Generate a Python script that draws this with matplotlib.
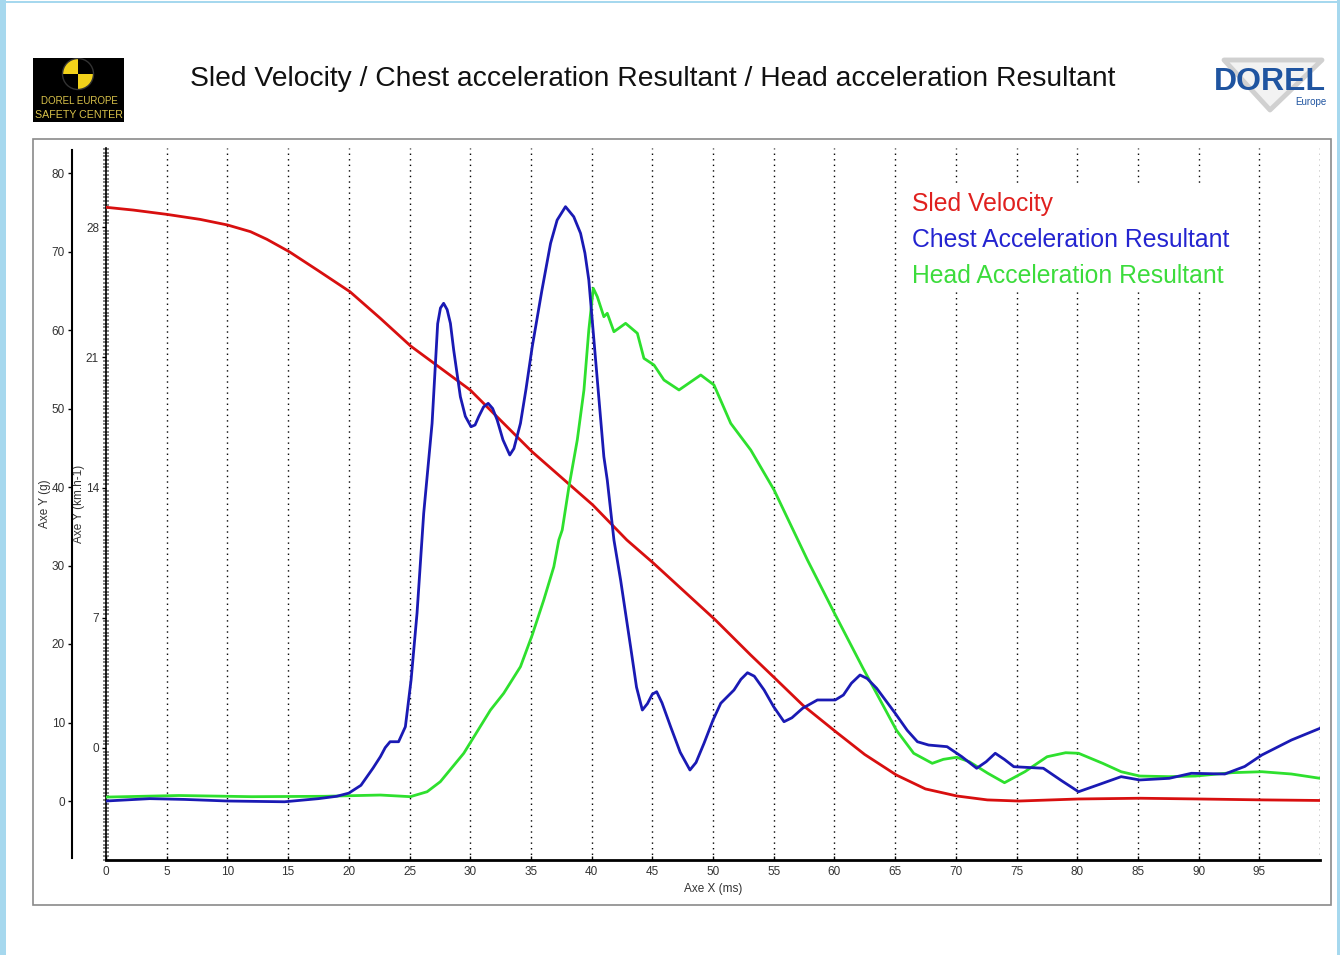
import matplotlib
matplotlib.use("Agg")
import matplotlib.pyplot as plt
from matplotlib.patches import Rectangle, Wedge, Circle, Polygon
from matplotlib.ticker import MultipleLocator, FixedLocator

# ---------------- data ----------------
sled_t = [0, 2.25, 5, 7.75, 10, 11.9, 13.25, 15.1, 17.4, 20.1, 22.6, 25.1, 30.0, 35.1, 40.1,
          42.9, 45.1, 50.2, 53.1, 55.1, 57.4, 60.1, 62.5, 65.1, 67.5, 70.1, 72.6, 75.2, 80.1,
          85.2, 90.0, 95.4, 100]
sled_v = [29.06, 28.91, 28.68, 28.41, 28.11, 27.75, 27.34, 26.67, 25.69, 24.52, 23.09, 21.60,
          19.24, 15.92, 13.06, 11.18, 9.93, 6.88, 5.00, 3.75, 2.3, 0.88, -0.35, -1.45, -2.2,
          -2.58, -2.79, -2.85, -2.74, -2.70, -2.74, -2.79, -2.82]

chest_t = [0, 3.6, 6.5, 10, 14.7, 17.5, 19.0, 20.0, 21.0, 22.0, 22.6, 23.0, 23.4, 24.1, 24.66,
           25.13, 25.62, 26.17, 26.86, 27.32, 27.55, 27.81, 28.1, 28.37, 28.64, 29.19, 29.6,
           30.07, 30.4, 30.70, 31.1, 31.48, 31.85, 32.22, 32.7, 33.26, 33.6, 34.14, 34.6, 35.11,
           35.9, 36.62, 37.16, 37.85, 38.53, 39.09, 39.45, 39.77, 40.19, 41.01, 41.29, 41.84,
           42.39, 43.21, 43.7, 44.18, 44.6, 45.0, 45.36, 45.8, 46.51, 47.3, 48.10, 48.6, 49.26,
           50.0, 50.64, 51.73, 52.3, 52.84, 53.4, 54.21, 55.0, 55.85, 56.5, 57.38, 58.60, 60.07,
           60.74, 61.4, 62.11, 62.7, 63.48, 65.01, 66.0, 66.84, 67.76, 69.28, 70.50, 71.72,
           72.5, 73.25, 74.0, 74.78, 77.21, 78.7, 80.11, 81.8, 83.62, 85.15, 87.58, 89.41,
           92.16, 93.8, 95.21, 97.65, 100]
chest_g = [0, 0.3, 0.2, 0, -0.1, 0.3, 0.6, 1.0, 2.0, 4.2, 5.64, 6.8, 7.55, 7.55, 9.46,
           15.41, 23.91, 36.65, 48.11, 60.8, 62.8, 63.40, 62.6, 60.85, 57.45, 51.50, 49.0,
           47.68, 47.9, 48.96, 50.2, 50.66, 50.0, 48.54, 46.0, 44.08, 44.9, 48.11, 52.5, 57.87,
           65.0, 71.04, 74.0, 75.71, 74.43, 72.32, 69.8, 66.37, 58.73, 43.86, 40.89, 33.25,
           28.15, 19.66, 14.5, 11.59, 12.4, 13.6, 13.92, 12.5, 9.46, 6.2, 3.95, 4.9, 7.35,
           10.3, 12.45, 14.14, 15.5, 16.34, 15.9, 14.14, 12.0, 10.10, 10.6, 11.81, 12.87, 12.87,
           13.50, 15.0, 16.05, 15.6, 14.36, 11.17, 9.0, 7.55, 7.13, 6.92, 5.64, 4.17,
           5.0, 6.08, 5.3, 4.37, 4.17, 2.6, 1.18, 2.1, 3.10, 2.68, 2.89, 3.53,
           3.44, 4.4, 5.86, 7.77, 9.26]

head_t = [0, 6, 12, 18, 22.6, 25.07, 26.45, 27.54, 29.47, 31.67, 32.76, 34.14, 35.11, 36.06,
          36.89, 37.30, 37.58, 38.13, 38.82, 39.37, 39.77, 40.14, 40.47, 41.01, 41.29, 41.84,
          42.80, 43.77, 44.31, 45.14, 45.96, 47.20, 48.99, 50.08, 51.46, 53.11, 55.03, 57.78,
          59.98, 62.36, 64.0, 65.10, 66.53, 68.06, 68.98, 70.07, 71.11, 72.64, 74.01, 75.69,
          77.52, 79.05, 80.11, 82.10, 83.62, 85.15, 87.58, 89.73, 92.78, 95.21, 97.64, 100]
head_g = [0.5, 0.7, 0.55, 0.6, 0.76, 0.55, 1.18, 2.46, 6.08, 11.59, 13.72, 17.11, 21.15, 25.61,
          29.85, 33.25, 34.52, 40.0, 45.99, 52.36, 60.0, 65.31, 64.24, 61.69, 62.13, 59.78,
          60.85, 59.58, 56.39, 55.54, 53.63, 52.36, 54.27, 53.0, 48.11, 44.71, 39.62, 30.70,
          24.0, 16.9, 12.2, 9.04, 6.08, 4.80, 5.31, 5.57, 5.01, 3.53, 2.33, 3.73, 5.64, 6.15,
          6.08, 4.80, 3.73, 3.18, 3.10, 3.18, 3.61, 3.73, 3.44, 2.89]

x_ticks = list(range(0, 100, 5))
g_ticks = [0, 10, 20, 30, 40, 50, 60, 70, 80]
v_ticks = [0, 7, 14, 21, 28]

title = "Sled Velocity / Chest acceleration Resultant / Head acceleration Resultant"
legend_labels = ["Sled Velocity", "Chest Acceleration Resultant", "Head Acceleration Resultant"]

RED = "#d80f0f"
BLUE = "#1a1ab4"
GREEN = "#2ee02e"
LEG_COLORS = ["#e0201e", "#2424d0", "#3cdc3c"]

plt.rcParams['font.family'] = ['Liberation Sans', 'DejaVu Sans']

W, H = 1340, 955
fig = plt.figure(figsize=(W / 100, H / 100), dpi=100)
fig.patch.set_facecolor("white")


def fx(px):
    return px / W


def fy(py):
    return 1 - py / H


# outer light-blue frame
fig.patches.append(Rectangle((0, 0), fx(6), 1, transform=fig.transFigure,
                             facecolor="#a6d8ee", edgecolor="none", zorder=0))
fig.patches.append(Rectangle((0, fy(3)), 1, fx(3), transform=fig.transFigure,
                             facecolor="#a6d8ee", edgecolor="none", zorder=0))
fig.patches.append(Rectangle((fx(1337), 0), fx(3), 1, transform=fig.transFigure,
                             facecolor="#a6d8ee", edgecolor="none", zorder=0))

# chart panel border
fig.patches.append(Rectangle((fx(33), fy(905)), fx(1331 - 33), fy(139) - fy(905),
                             transform=fig.transFigure, facecolor="none",
                             edgecolor="#8a8a8a", lw=1.2, zorder=1))

# ---------------- main axes ----------------
L, R, T, B = 106, 1320, 148, 860
ax = fig.add_axes([fx(L), fy(B), fx(R - L), fy(T) - fy(B)])
ax.set_facecolor("none")
ax.set_xlim(0, 100)
ax.set_ylim((801 - B) / 7.85, (801 - T) / 7.85)

axv = ax.twinx()
axv.set_ylim((748 - B) / 18.607, (748 - T) / 18.607)

# grid (vertical dotted lines)
for xv in list(range(5, 101, 5)):
    axv.axvline(xv, color="black", lw=1.0, ls=(0, (1, 3)), zorder=1)

# curves
axv.plot(sled_t, sled_v, color=RED, lw=2.0, zorder=3, solid_joinstyle="round")
ax.plot(head_t, head_g, color=GREEN, lw=2.0, zorder=4, solid_joinstyle="round")
ax.plot(chest_t, chest_g, color=BLUE, lw=2.0, zorder=5, solid_joinstyle="round")
ax.set_zorder(axv.get_zorder() + 1)

# g axis (offset spine)
for s in ["top", "right"]:
    ax.spines[s].set_visible(False)
ax.spines["left"].set_position(("axes", (72 - L) / (R - L)))
ax.spines["left"].set_bounds((801 - 858) / 7.85, (801 - 150) / 7.85)
ax.spines["left"].set_linewidth(1.5)
ax.spines["bottom"].set_linewidth(2.0)
ax.yaxis.set_major_locator(FixedLocator(g_ticks))
ax.tick_params(axis="y", direction="out", length=3, width=1, labelsize=8.5,
               pad=2, colors="black", labelcolor="#333333")
ax.set_ylabel("Axe Y (g)", fontsize=8.5, color="#333333", labelpad=1)
ax.yaxis.set_label_coords((51 - L) / (R - L), 0.5)

ax.xaxis.set_major_locator(FixedLocator(x_ticks))
ax.tick_params(axis="x", direction="in", length=3, width=1, labelsize=8.5, pad=4,
               labelcolor="#333333")
ax.set_xlabel("Axe X (ms)", fontsize=8.5, color="#333333", labelpad=4)

# velocity axis (at plot left edge)
for s in ["top", "right", "bottom"]:
    axv.spines[s].set_visible(False)
axv.spines["left"].set_visible(True)
axv.spines["left"].set_position(("axes", 0))
axv.spines["left"].set_linewidth(1.2)
axv.yaxis.tick_left()
axv.yaxis.set_label_position("left")
axv.yaxis.set_major_locator(FixedLocator(v_ticks))
axv.yaxis.set_minor_locator(MultipleLocator(0.2))
axv.tick_params(axis="y", which="major", direction="out", length=3, width=1,
                labelsize=8.5, pad=2, labelcolor="#333333")
axv.tick_params(axis="y", which="minor", direction="inout", length=4, width=1.2,
                color="#707070")
axv.set_ylabel("Axe Y (km.h-1)", fontsize=8.5, color="#333333")
axv.yaxis.set_label_coords((85 - L) / (R - L), 0.5)

# legend box (white, hides grid) and texts
fig.patches.append(Rectangle((fx(905), fy(292)), fx(1238 - 905), fy(186) - fy(292),
                             transform=fig.transFigure, facecolor="white",
                             edgecolor="none", zorder=2))
for i, (lab, c) in enumerate(zip(legend_labels, LEG_COLORS)):
    fig.text(fx(912), fy(204 + 36 * i), lab, color=c, fontsize=17.8,
             ha="left", va="center", zorder=3)

# title
fig.text(fx(653), fy(79), title, fontsize=20.3, ha="center", va="center", color="#111111")

# ---------------- left logo ----------------
lg = fig.add_axes([fx(33), fy(122), fx(124 - 33), fy(58) - fy(122)])
lg.set_xlim(33, 124)
lg.set_ylim(122, 58)
lg.set_facecolor("black")
lg.set_xticks([])
lg.set_yticks([])
for s in lg.spines.values():
    s.set_visible(False)
cx, cy, r = 78, 74, 15.5
YEL = "#f2d21a"
lg.add_patch(Wedge((cx, cy), r, 180, 270, facecolor=YEL, edgecolor="none"))
lg.add_patch(Wedge((cx, cy), r, 0, 90, facecolor=YEL, edgecolor="none"))
lg.add_patch(Circle((cx, cy), r, facecolor="none", edgecolor="#333333", lw=1))
lg.text(79, 101, "DOREL EUROPE", color="#d9c24a", fontsize=7.0, ha="center", va="center")
lg.text(78.5, 115, "SAFETY CENTER", color="#d9c24a", fontsize=7.7, ha="center", va="center")

# ---------------- right logo ----------------
rg = fig.add_axes([fx(1205), fy(118), fx(1335 - 1205), fy(55) - fy(118)])
rg.set_xlim(1205, 1335)
rg.set_ylim(118, 55)
rg.axis("off")
rg.add_patch(Polygon([(1224, 60), (1322, 60), (1270, 110)], closed=True,
                     facecolor="#f2f2f2", edgecolor="#d0d0d0", lw=3.5, joinstyle="round"))
rg.text(1270, 82, "DOREL", color="#1f54a0", fontsize=23, fontweight="bold",
        ha="center", va="center")
rg.text(1326, 102, "Europe", color="#1f54a0", fontsize=7, ha="right", va="center")

fig.savefig("out.png", dpi=100, facecolor="white")
